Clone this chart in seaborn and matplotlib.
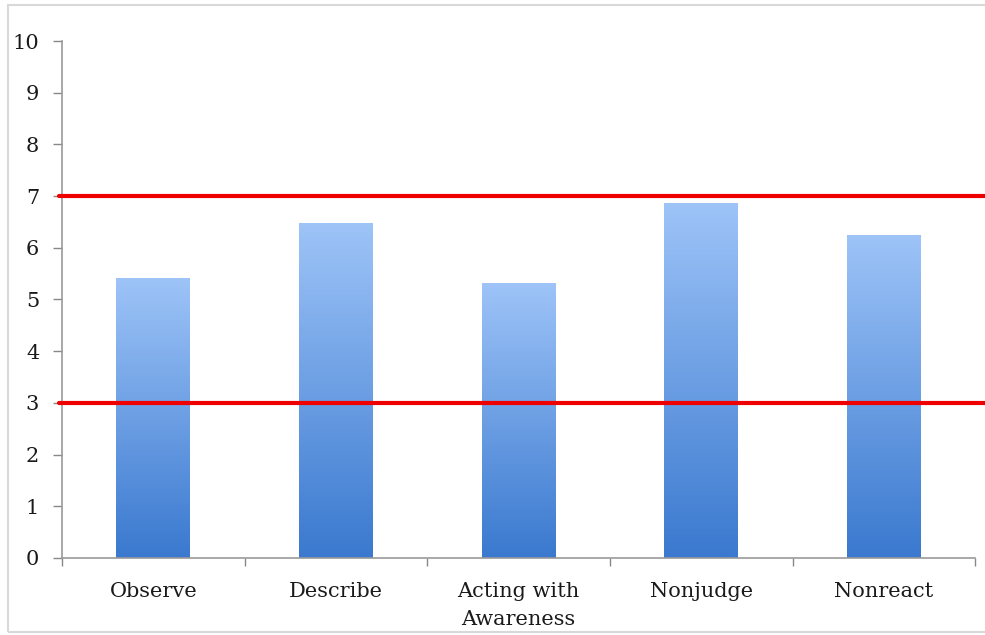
import numpy as np
import pandas as pd
import matplotlib
matplotlib.use("Agg")
import matplotlib.pyplot as plt
import seaborn as sns
from matplotlib.colors import LinearSegmentedColormap
from matplotlib.patches import Rectangle

categories = ["Observe", "Describe", "Acting with\nAwareness", "Nonjudge", "Nonreact"]
scores = [5.42, 6.48, 5.32, 6.87, 6.25]
y_ticks = list(range(0, 11))
reference_lines = [3, 7]

sns.set_theme(style="white")
plt.rcParams["font.family"] = ["DejaVu Serif"]

df = pd.DataFrame({"facet": categories, "score": scores})

fig = plt.figure(figsize=(9.85, 6.35), dpi=100)
ax = fig.add_axes([0.063, 0.1213, 0.927, 0.8141])

sns.barplot(data=df, x="facet", y="score", ax=ax, width=0.405, color="#5b95e0")

# vertical gradient fill inside each bar
cmap = LinearSegmentedColormap.from_list("bar", ["#3a79cf", "#9ec4f8"])
grad = np.linspace(0, 1, 256).reshape(-1, 1)
for patch in ax.patches:
    x0, y0 = patch.get_x(), patch.get_y()
    w, h = patch.get_width(), patch.get_height()
    patch.set_facecolor("none")
    patch.set_edgecolor("none")
    im = ax.imshow(grad, cmap=cmap, origin="lower", aspect="auto",
                   extent=[x0, x0 + w, y0, y0 + h], zorder=2)
    im.set_clip_path(patch)
ax.set_xlim(-0.5, len(categories) - 0.5)
ax.set_ylim(0, 10)

for yv in reference_lines:
    ax.axhline(yv, xmin=-0.003, xmax=1.02, color="#ee0000", lw=3.0,
               zorder=4, clip_on=False)

ax.set_yticks(y_ticks)
ax.set_yticklabels([str(t) for t in y_ticks], fontsize=15, color="#1a1a1a")
ax.set_xticks(range(len(categories)))
ax.set_xticklabels(categories, fontsize=15, color="#1a1a1a", linespacing=1.6)
ax.set_xlabel("")
ax.set_ylabel("")

# category boundary ticks on the x axis
ax.set_xticks(np.arange(-0.5, len(categories), 1.0), minor=True)
ax.tick_params(axis="x", which="major", length=0, pad=17)
ax.tick_params(axis="x", which="minor", length=5.5, width=1, color="#888888",
               direction="out", bottom=True)
ax.tick_params(axis="y", length=6.5, width=1, color="#888888", direction="out",
               left=True, pad=10)

for side in ["top", "right"]:
    ax.spines[side].set_visible(False)
for side in ["left", "bottom"]:
    ax.spines[side].set_color("#999999")
    ax.spines[side].set_linewidth(1.2)

fig.patches.append(Rectangle((8 / 985, 3 / 635), 1.0, 627 / 635,
                             transform=fig.transFigure, fill=False,
                             edgecolor="#d8d8d8", lw=1.5))

fig.savefig("out.png", dpi=100)
